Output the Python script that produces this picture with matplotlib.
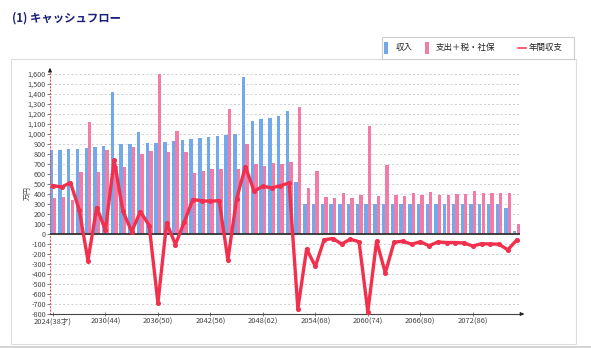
import matplotlib
matplotlib.use("Agg")
import matplotlib.pyplot as plt
from matplotlib.patches import Rectangle
from matplotlib.lines import Line2D
import numpy as np

plt.rcParams['font.family'] = ['Noto Sans CJK JP', 'DejaVu Sans']

years = list(range(2024, 2078))
income = [837, 840, 847, 853, 860, 870, 880, 1417, 897, 897, 1020, 913, 913, 923,
          933, 943, 950, 960, 970, 977, 990, 1000, 1570, 1133, 1150, 1163, 1180, 1230,
          520] + [305] * 23 + [257, 30]
expense = [363, 373, 343, 617, 1123, 617, 837, 685, 670, 873, 797, 833, 1600, 823,
           1033, 823, 607, 633, 647, 647, 1247, 647, 897, 703, 677, 707, 697, 720,
           1267, 460, 630, 367, 357, 407, 363, 387, 1083, 383, 693, 393, 383, 410,
           390, 423, 387, 393, 397, 397, 430, 407, 410, 413, 413, 97]
balance = [483, 470, 513, 243, -265, 265, 40, 740, 227, 25, 225, 85, -690, 112,
           -105, 118, 345, 333, 327, 335, -258, 352, 675, 428, 478, 460, 483, 510,
           -748, -150, -323, -58, -45, -100, -52, -78, -778, -72, -388, -82, -72, -102,
           -78, -117, -80, -85, -85, -90, -120, -97, -100, -102, -158, -63]
tick_years = [2024, 2030, 2036, 2042, 2048, 2054, 2060, 2066, 2072]
tick_labels = ['2024(38才)', '2030(44)', '2036(50)', '2042(56)', '2048(62)',
               '2054(68)', '2060(74)', '2066(80)', '2072(86)']
series_names = ['収入', '支出＋税・社保', '年間収支']
title = '(1) キャッシュフロー'
ylabel = '万円'

W, H = 591, 348
fig = plt.figure(figsize=(W / 100, H / 100), dpi=100)

def fx(px):
    return px / W

def fy(py):
    return 1 - py / H

# panel frame
fig.patches.append(Rectangle((fx(11), fy(344)), fx(576) - fx(11), fy(59) - fy(344),
                             transform=fig.transFigure, fill=False,
                             edgecolor='#dddddd', linewidth=0.8))
fig.lines.append(Line2D([0, 1], [fy(347), fy(347)], transform=fig.transFigure,
                        color='#cccccc', linewidth=1.2))

ax = fig.add_axes([fx(50), fy(314), fx(520) - fx(50), fy(70) - fy(314)])

blue = '#72a9ea'
pink = '#f47aa8'
red = '#f2304d'

x = np.array(years, dtype=float)
w = 0.39
ax.bar(x - 0.2, income, width=w, color=blue, zorder=2)
ax.bar(x + 0.2, expense, width=w, color=pink, zorder=2)
ax.plot(x, balance, color=red, linewidth=2.4, marker='o', markersize=2.6,
        zorder=4, solid_joinstyle='round')

ax.set_xlim(2023.66, 2077.4)
ax.set_ylim(-800, 1640)
yt = list(range(-800, 1601, 100))
ax.set_yticks(yt)
ax.set_yticklabels([f'{v:,}' for v in yt], fontsize=5.2, color='#444444')
ax.set_xticks(tick_years)
ax.set_xticklabels(tick_labels, fontsize=5.4, color='#444444')
ax.tick_params(axis='y', length=2, width=0.6, pad=1, color='#666666')
ax.tick_params(axis='x', length=3, width=0.6, pad=1, color='#666666', direction='inout')

for v in yt:
    ax.axhline(v, color='#c8c8c8', linewidth=0.6, linestyle=(0, (2.5, 2.5)), zorder=1)
ax.axhline(0, color='#333333', linewidth=1.3, zorder=3)

for s in ['top', 'right']:
    ax.spines[s].set_visible(False)
ax.spines['left'].set_color('#d05a6a')
ax.spines['left'].set_linestyle((0, (1, 2)))
ax.spines['left'].set_linewidth(0.8)
ax.spines['bottom'].set_color('#444444')
ax.spines['bottom'].set_linewidth(0.8)

# axis arrows
ax.annotate('', xy=(fx(527), fy(314)), xytext=(fx(519), fy(314)),
            xycoords='figure fraction', textcoords='figure fraction',
            arrowprops=dict(arrowstyle='-|>', color='#222222', lw=0.8, mutation_scale=5))
ax.annotate('', xy=(fx(50), fy(68)), xytext=(fx(50), fy(73)),
            xycoords='figure fraction', textcoords='figure fraction',
            arrowprops=dict(arrowstyle='-|>', color='#222222', lw=0.8, mutation_scale=5))

fig.text(fx(28), fy(193), ylabel, rotation=90, fontsize=5, color='#444444',
         ha='center', va='center')

fig.text(fx(12), fy(18), title, fontsize=8.2, fontweight='bold', color='#1a1f7a',
         ha='left', va='center')

# legend (drawn manually for exact placement)
fig.patches.append(Rectangle((fx(382), fy(59)), fx(574) - fx(382), fy(37) - fy(59),
                             transform=fig.transFigure, facecolor='white',
                             edgecolor='#cccccc', linewidth=0.8))
fig.patches.append(Rectangle((fx(383.5), fy(54)), fx(4.2), fy(42) - fy(54),
                             transform=fig.transFigure, facecolor=blue, edgecolor='none'))
fig.patches.append(Rectangle((fx(424.5), fy(54)), fx(4.2), fy(42) - fy(54),
                             transform=fig.transFigure, facecolor=pink, edgecolor='none'))
fig.lines.append(Line2D([fx(518), fx(526)], [fy(47.5), fy(47.5)],
                        transform=fig.transFigure, color=red, linewidth=1.1))
leg_x = [395.5, 435.5, 528.5]
for name, px in zip(series_names, leg_x):
    fig.text(fx(px), fy(47.5), name, fontsize=6.1, color='#222222',
             ha='left', va='center')

fig.savefig('out.png', dpi=100)
